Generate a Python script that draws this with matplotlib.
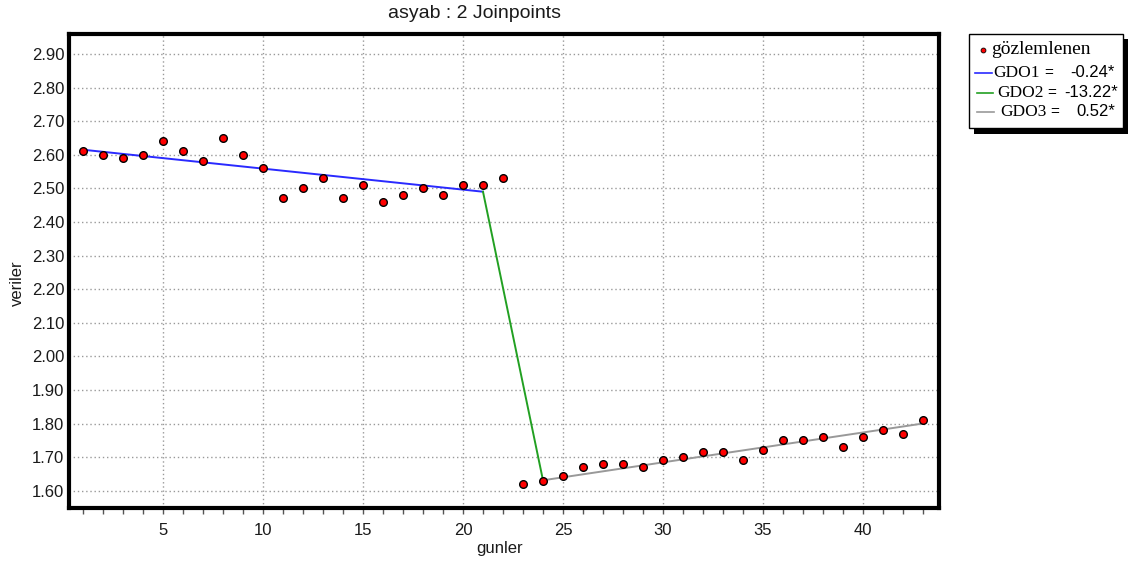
import matplotlib
matplotlib.use("Agg")
import matplotlib.pyplot as plt
from matplotlib.patches import Rectangle
from matplotlib.lines import Line2D
from matplotlib.ticker import MultipleLocator

# observed values per day
gunler = list(range(1, 44))
veriler = [2.61, 2.60, 2.59, 2.60, 2.64, 2.61, 2.58, 2.65, 2.60, 2.56,
           2.47, 2.50, 2.53, 2.47, 2.51, 2.46, 2.48, 2.50, 2.48, 2.51,
           2.51, 2.53, 1.62, 1.63, 1.645, 1.67, 1.68, 1.68, 1.67, 1.69,
           1.70, 1.715, 1.715, 1.69, 1.72, 1.75, 1.75, 1.76, 1.73, 1.76,
           1.78, 1.77, 1.81]

# joinpoint model: segment ends and fitted values
fit_x = [1, 21, 24, 43]
fit_y = [2.615, 2.490, 1.631, 1.800]
seg_colors = ["#2a2aff", "#22a022", "#999999"]
seg_labels = ["GDO1", "GDO2", "GDO3"]
seg_eq = ["=", "=", "="]
seg_values = ["-0.24*", "-13.22*", "0.52*"]

W, H = 1131, 567
fig = plt.figure(figsize=(W / 100, H / 100), dpi=100)
fig.patch.set_facecolor("white")


def px(x):
    return x / W


def py(y):
    return 1 - y / H


ax = fig.add_axes([px(68.5), py(507.5), (938.5 - 68.5) / W, (507.5 - 33.5) / H])

ax.xaxis.grid(True, which="major", linestyle=(0, (1, 2)), color="#999999", linewidth=1)
ax.yaxis.grid(True, which="major", linestyle=(0, (1, 2)), color="#999999", linewidth=1)
ax.set_axisbelow(True)

for i in range(3):
    ax.plot(fit_x[i:i + 2], fit_y[i:i + 2], color=seg_colors[i], linewidth=1.4, zorder=2)

ax.plot(gunler, veriler, linestyle="none", marker="o", markersize=5.5,
        markerfacecolor="#ff0000", markeredgecolor="black", markeredgewidth=1, zorder=3)

ax.set_xlim(0.27, 43.78)
ax.set_ylim(1.55, 2.961)
ax.xaxis.set_major_locator(MultipleLocator(5))
ax.xaxis.set_minor_locator(MultipleLocator(1))
ax.yaxis.set_major_locator(MultipleLocator(0.1))
ax.yaxis.set_major_formatter(matplotlib.ticker.FormatStrFormatter("%.2f"))

font = "Liberation Sans"
ax.tick_params(axis="x", which="both", direction="out", length=4, width=1,
               color="#555555", pad=7, labelsize=12)
ax.tick_params(axis="y", length=0, pad=3, labelsize=12)
for lab in ax.get_xticklabels() + ax.get_yticklabels():
    lab.set_fontfamily(font)
    lab.set_color("#1a1a1a")

for sp in ax.spines.values():
    sp.set_linewidth(3)
    sp.set_color("black")

fig.text(px(475), py(14), "asyab : 2 Joinpoints", ha="center", va="center",
         fontsize=14, family=font, color="#1a1a1a")
fig.text(px(500), py(549), "gunler", ha="center", va="center",
         fontsize=12, family=font, color="#1a1a1a")
fig.text(px(17), py(283), "veriler", ha="center", va="center", rotation=90,
         fontsize=12, family=font, color="#1a1a1a")

# legend box with drop shadow
fig.patches.append(Rectangle((px(974), py(134)), px(1128) - px(974), py(39) - py(134),
                             transform=fig.transFigure, facecolor="black",
                             edgecolor="none", zorder=1))
fig.patches.append(Rectangle((px(969), py(128)), px(1123) - px(969), py(34) - py(128),
                             transform=fig.transFigure, facecolor="white",
                             edgecolor="black", linewidth=1, zorder=2))

serif = "Liberation Serif"
fig.lines.append(Line2D([px(983)], [py(50)], transform=fig.transFigure, marker="o",
                        markersize=3.5, markerfacecolor="#ff0000",
                        markeredgecolor="black", markeredgewidth=0.6, zorder=3))
fig.text(px(991), py(49), "gözlemlenen", ha="left", va="center",
         fontsize=14, family=serif, color="black", zorder=3)

row_y = [73, 93, 112]
line_x = [(975, 992), (977, 993), (977, 994)]
name_x = [993, 997, 1000]
eq_x = [1044, 1047, 1050]
val_x = [1115, 1118, 1115]
for i in range(3):
    y = row_y[i]
    fig.lines.append(Line2D([px(line_x[i][0]), px(line_x[i][1])], [py(y), py(y)],
                            transform=fig.transFigure, color=seg_colors[i],
                            linewidth=1.2, zorder=3))
    fig.text(px(name_x[i]), py(y), seg_labels[i], ha="left", va="center",
             fontsize=12.5, family=serif, color="black", zorder=3)
    fig.text(px(eq_x[i]), py(y), seg_eq[i], ha="left", va="center",
             fontsize=11, family=font, color="black", zorder=3)
    fig.text(px(val_x[i]), py(y), seg_values[i], ha="right", va="center",
             fontsize=12, family=font, color="black", zorder=3)

fig.savefig("out.png", dpi=100)
